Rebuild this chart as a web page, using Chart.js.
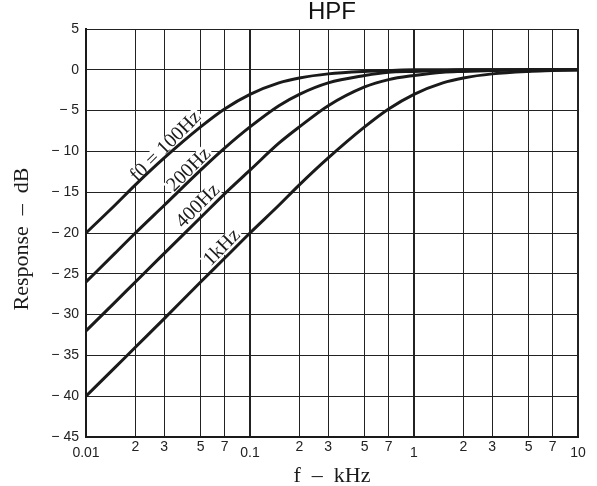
<!DOCTYPE html>
<html>
<head>
<meta charset="utf-8">
<script src="https://cdn.jsdelivr.net/npm/chart.js@4"></script>
<style>
  html, body { margin: 0; padding: 0; background: #fff; }
  #wrap { width: 597px; height: 486px; }
</style>
</head>
<body>
<div id="wrap"><canvas id="hpf"></canvas></div>
<script>
// frequencies in kHz
const freqs = [0.01, 0.015, 0.02, 0.03, 0.05, 0.07, 0.1, 0.15, 0.2, 0.3, 0.5, 0.7, 1, 1.5, 2, 3, 5, 7, 10];

// response in dB
const resp100 = [-20.0, -16.6, -14.1, -10.8, -7.0, -4.8, -3.0, -1.6, -1.0, -0.5, -0.2, -0.1, 0, 0, 0, 0, 0, 0, 0];
const resp200 = [-26.0, -22.5, -20.0, -16.6, -12.3, -9.6, -7.0, -4.4, -3.0, -1.6, -0.7, -0.3, -0.2, -0.1, 0, 0, 0, 0, 0];
const resp400 = [-32.0, -28.5, -26.0, -22.5, -18.1, -15.2, -12.3, -9.0, -7.0, -4.4, -2.1, -1.2, -0.7, -0.3, -0.2, -0.1, 0, 0, 0];
const resp1k  = [-40.0, -36.5, -34.0, -30.5, -26.0, -23.1, -20.0, -16.6, -14.1, -10.8, -7.0, -4.8, -3.0, -1.6, -1.0, -0.5, -0.2, -0.1, 0];

const xTicks = [0.01, 0.02, 0.03, 0.05, 0.07, 0.1, 0.2, 0.3, 0.5, 0.7, 1, 2, 3, 5, 7, 10];
const xTickLabels = ['0.01', '2', '3', '5', '7', '0.1', '2', '3', '5', '7', '1', '2', '3', '5', '7', '10'];
const decades = [0.01, 0.1, 1, 10];

// curve labels: text and where they sit (kHz, dB)
const curveLabels = ['f0 = 100Hz', '200Hz', '400Hz', '1kHz'];
const labelX = [0.0307, 0.0425, 0.0482, 0.0675];
const labelY = [-9.4, -12.25, -16.7, -21.8];

const INK = '#1a1a1a';
const SANS = '"Liberation Sans", Arial, sans-serif';
const SERIF = '"Liberation Serif", "Times New Roman", serif';

const toPoints = arr => arr.map((v, i) => ({ x: freqs[i], y: v }));
const isDecade = v => decades.some(d => Math.abs(d - v) < 1e-9);

const curveStyle = {
  borderColor: INK,
  borderWidth: 3,
  pointRadius: 0,
  fill: false,
  cubicInterpolationMode: 'monotone'
};

// text that chart.js doesn't place the way the figure does
const annotations = {
  id: 'annotations',
  beforeDatasetsDraw(chart) {
    const { ctx, scales: { x, y } } = chart;
    ctx.save();
    ctx.font = '20px ' + SERIF;
    ctx.textAlign = 'center';
    ctx.textBaseline = 'middle';
    curveLabels.forEach((txt, i) => {
      const px = x.getPixelForValue(labelX[i]);
      const py = y.getPixelForValue(labelY[i]);
      const w = ctx.measureText(txt).width;
      ctx.save();
      ctx.translate(px, py);
      ctx.rotate(-Math.PI / 4);
      ctx.fillStyle = '#fff';
      ctx.fillRect(-w / 2 - 2, -8, w + 4, 15);
      ctx.fillStyle = INK;
      ctx.fillText(txt, 0, 0);
      ctx.restore();
    });
    ctx.restore();
  },
  afterDraw(chart) {
    const { ctx, chartArea, scales: { x } } = chart;
    const midX = (chartArea.left + chartArea.right) / 2;
    ctx.save();

    ctx.fillStyle = '#111';
    ctx.font = '24px ' + SANS;
    ctx.textAlign = 'center';
    ctx.textBaseline = 'alphabetic';
    ctx.fillText('HPF', midX, 19);

    ctx.fillStyle = '#222';
    ctx.font = '14px ' + SANS;
    ctx.textBaseline = 'middle';
    xTicks.forEach((v, i) => {
      const off = isDecade(v) ? 16 : 10;
      ctx.fillText(xTickLabels[i], x.getPixelForValue(v), chartArea.bottom + off);
    });

    ctx.fillStyle = INK;
    ctx.font = '22px ' + SERIF;
    ctx.textBaseline = 'alphabetic';
    ctx.fillText('f  \u2013  kHz', midX, chartArea.bottom + 45);

    ctx.translate(28, 239);
    ctx.rotate(-Math.PI / 2);
    ctx.fillText('Response  \u2013  dB', 0, 0);
    ctx.restore();
  }
};

Chart.defaults.font.family = SANS;

new Chart(document.getElementById('hpf'), {
  type: 'line',
  data: {
    datasets: [
      { label: '100Hz', data: toPoints(resp100), ...curveStyle },
      { label: '200Hz', data: toPoints(resp200), ...curveStyle },
      { label: '400Hz', data: toPoints(resp400), ...curveStyle },
      { label: '1kHz', data: toPoints(resp1k), ...curveStyle }
    ]
  },
  options: {
    responsive: true,
    maintainAspectRatio: false,
    animation: false,
    layout: { padding: { left: 0, right: 19, top: 29, bottom: 0 } },
    plugins: {
      legend: { display: false },
      tooltip: { enabled: false },
      title: { display: false }
    },
    scales: {
      x: {
        type: 'logarithmic',
        min: 0.01,
        max: 10,
        afterBuildTicks: scale => { scale.ticks = xTicks.map(v => ({ value: v })); },
        afterFit: scale => { scale.height = 49; },
        ticks: { display: false },
        grid: {
          color: '#222',
          lineWidth: c => (c.tick && isDecade(c.tick.value)) ? 2 : 1,
          drawTicks: false
        },
        border: { color: INK, width: 2 }
      },
      y: {
        min: -45,
        max: 5,
        afterFit: scale => { scale.width = 86; },
        ticks: {
          stepSize: 5,
          color: '#222',
          padding: 7,
          font: { size: 14 },
          callback: v => v < 0 ? '\u2212 ' + Math.abs(v) : String(v)
        },
        grid: { color: '#222', lineWidth: 1, drawTicks: false },
        border: { color: INK, width: 2 }
      }
    }
  },
  plugins: [annotations]
});
</script>
</body>
</html>
